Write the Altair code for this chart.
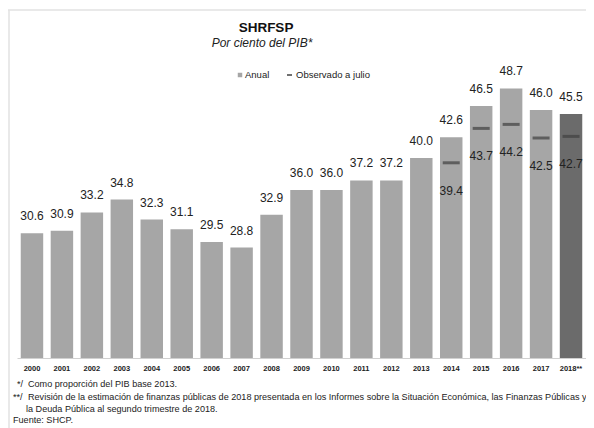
import altair as alt
import pandas as pd

years = ["2000", "2001", "2002", "2003", "2004", "2005", "2006", "2007", "2008", "2009",
         "2010", "2011", "2012", "2013", "2014", "2015", "2016", "2017", "2018**"]
anual = [30.6, 30.9, 33.2, 34.8, 32.3, 31.1, 29.5, 28.8, 32.9, 36.0,
         36.0, 37.2, 37.2, 40.0, 42.6, 46.5, 48.7, 46.0, 45.5]
obs_years = ["2014", "2015", "2016", "2017", "2018**"]
observado = [39.4, 43.7, 44.2, 42.5, 42.7]
legend_labels = ["Anual", "Observado a julio"]
title_text = "SHRFSP"
subtitle_text = "Por ciento del PIB*"
note_marks = ["*/", "**/"]
notes = [
    "Como proporción del PIB base 2013.",
    "Revisión de la estimación de finanzas públicas de 2018 presentada en los Informes sobre la Situación Económica, las Finanzas Públicas y",
    "la Deuda Pública al segundo trimestre de 2018.",
    "Fuente: SHCP.",
]

FONT = "Liberation Sans"
BAR = "#a6a6a6"
BAR_LAST = "#6b6b6b"
DASH = "#404040"

df = pd.DataFrame({"year": years, "anual": anual})
dfo = pd.DataFrame({"year": obs_years, "obs": observado})

xenc = alt.X("year:N", sort=years, title=None,
             scale=alt.Scale(paddingInner=0.25, paddingOuter=0.125),
             axis=alt.Axis(labelAngle=0, ticks=False, domainColor="#d0d0d0", domainWidth=1,
                           labelFont=FONT, labelFontSize=7.5, labelFontWeight="bold",
                           labelColor="#222222", labelPadding=6))
yscale = alt.Scale(domain=[15, 50], zero=False, nice=False)

bars = alt.Chart(df).mark_bar(clip=True).encode(
    x=xenc,
    y=alt.Y("anual:Q", scale=yscale, axis=None),
    color=alt.condition(alt.datum.year == "2018**", alt.value(BAR_LAST), alt.value(BAR)),
)
bar_labels = alt.Chart(df).mark_text(dy=-17, font=FONT, fontSize=12, color="#222222",
                                     baseline="middle").encode(
    x=alt.X("year:N", sort=years),
    y=alt.Y("anual:Q", scale=yscale),
    text=alt.Text("anual:Q", format=".1f"),
)
ticks = alt.Chart(dfo).mark_tick(color=DASH, thickness=3, size=17).encode(
    x=alt.X("year:N", sort=years),
    y=alt.Y("obs:Q", scale=yscale),
)
tick_labels = alt.Chart(dfo).mark_text(dy=28, font=FONT, fontSize=12, color="#222222",
                                       baseline="middle").encode(
    x=alt.X("year:N", sort=years),
    y=alt.Y("obs:Q", scale=yscale),
    text=alt.Text("obs:Q", format=".1f"),
)


def label(txt, x, y, size=9.1, align="left", color="#222222", **kw):
    return alt.Chart(pd.DataFrame({"t": [txt]})).mark_text(
        font=FONT, fontSize=size, align=align, baseline="middle", color=color, **kw
    ).encode(x=alt.value(x), y=alt.value(y), text="t:N")


one = pd.DataFrame({"k": [0]})
# title
t1 = label(title_text, 249, -50, size=13.5, align="center", color="#111111", fontWeight="bold")
t2 = label(subtitle_text, 245, -35.5, size=12, align="center", fontStyle="italic")

# legend
leg_sq = alt.Chart(one).mark_square(size=20, color=BAR, opacity=1).encode(
    x=alt.value(223), y=alt.value(-3))
leg_dash = alt.Chart(one).mark_rule(color=DASH, strokeWidth=1.5).encode(
    x=alt.value(270), x2=alt.value(275), y=alt.value(-3))
leg1 = label(legend_labels[0], 228, -3, size=9.5)
leg2 = label(legend_labels[1], 279, -3, size=9.5)

# footnotes
n1m = label(note_marks[0], 0, 306)
n1 = label(notes[0], 11, 306)
n2m = label(note_marks[1], -4, 319)
n2 = label(notes[1], 11, 319)
n3 = label(notes[2], 9, 331)
n4 = label(notes[3], -4, 342)

# frame (decoration)
frame_top = alt.Chart(one).mark_rule(color="#e2e2e2", strokeWidth=1.5).encode(
    x=alt.value(-9), x2=alt.value(569), y=alt.value(-68))
frame_left = alt.Chart(one).mark_rule(color="#e2e2e2", strokeWidth=1.5).encode(
    x=alt.value(-8), y=alt.value(-68), y2=alt.value(350))

chart = alt.layer(
    frame_top, frame_left, bars, bar_labels, ticks, tick_labels, t1, t2,
    leg_sq, leg_dash, leg1, leg2, n1m, n1, n2m, n2, n3, n4,
).properties(
    width=569, height=280,
    autosize="none",
    padding={"left": 9, "top": 70, "right": 0, "bottom": 70},
).configure_view(stroke=None)

chart.save("out.html", embed_options={"renderer": "svg", "actions": False})
